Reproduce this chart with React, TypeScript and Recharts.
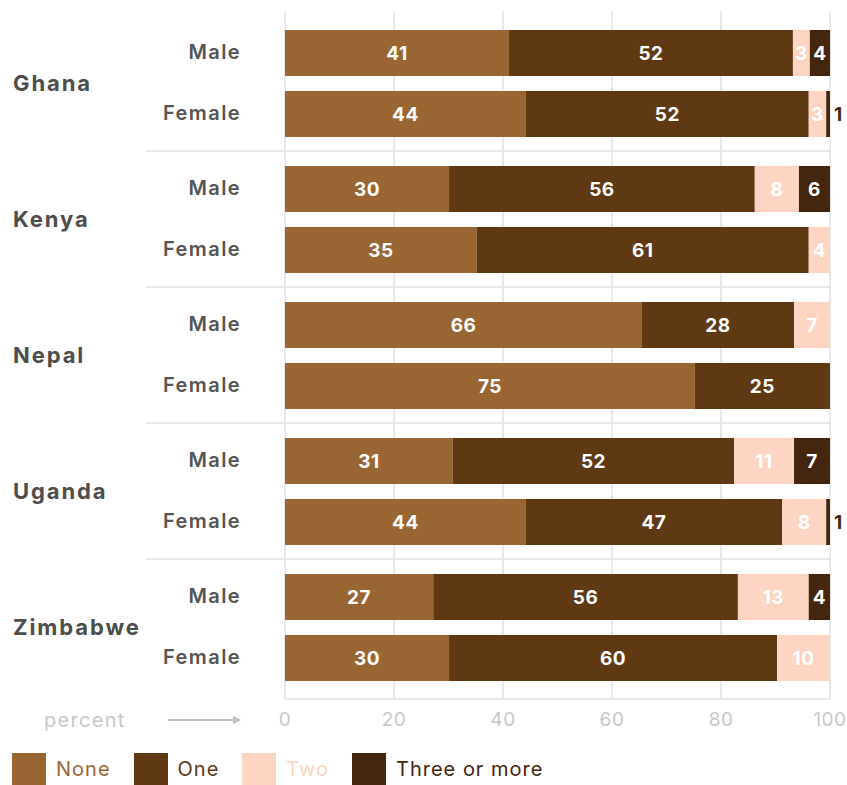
import React from 'react'
import {
  Bar,
  BarChart,
  CartesianGrid,
  LabelList,
  Legend,
  XAxis,
  YAxis
} from 'recharts'

const countries = ['Ghana', 'Kenya', 'Nepal', 'Uganda', 'Zimbabwe']
const genders = ['Male', 'Female']
const categories = ['None', 'One', 'Two', 'Three or more']
const colors = ['#996633', '#5e3914', '#fdd5c2', '#44260e']
const xTicks = [0, 20, 40, 60, 80, 100]

// share of people (percent) by number of children
const maleNone = [41.1, 30.1, 65.5, 30.8, 27.2]
const maleOne = [52.1, 56.1, 27.9, 51.6, 55.9]
const maleTwo = [3.1, 8.1, 6.6, 11.0, 13.0]
const maleThree = [3.7, 5.7, 0, 6.6, 3.9]
const femaleNone = [44.2, 35.2, 75.2, 44.2, 30.1]
const femaleOne = [51.9, 60.9, 24.8, 47.0, 60.2]
const femaleTwo = [3.2, 3.9, 0, 8.1, 9.7]
const femaleThree = [0.7, 0, 0, 0.7, 0]

const maleSeries = [maleNone, maleOne, maleTwo, maleThree]
const femaleSeries = [femaleNone, femaleOne, femaleTwo, femaleThree]

const data = countries.map((country, i) => {
  const row: Record<string, string | number> = { country }
  categories.forEach((_, k) => {
    row[`m${k}`] = maleSeries[k][i]
    row[`f${k}`] = femaleSeries[k][i]
  })
  return row
})

const FONT = 'Inter, "Open Sans", sans-serif'
const GRID = '#e9e9e9'

function RowTick(props: any) {
  const { y, payload, index } = props
  return (
    <g>
      {index > 0 && (
        <line x1={146} x2={830} y1={y - 68} y2={y - 68} stroke={GRID} strokeWidth={2} />
      )}
      <text
        x={13}
        y={y}
        dy="0.35em"
        fontSize={22}
        fontWeight={700}
        letterSpacing={1.9}
        fill="#4d4d4d"
      >
        {payload.value}
      </text>
      {genders.map((g, j) => (
        <text
          key={g}
          x={241}
          y={j === 0 ? y - 31 : y + 30}
          dy="0.35em"
          textAnchor="end"
          fontSize={20}
          fontWeight={600}
          letterSpacing={1.4}
          fill="#555555"
        >
          {g}
        </text>
      ))}
    </g>
  )
}

function SegmentLabel(props: any) {
  const { x, y, width, height, value } = props
  const v = Math.round(Number(value))
  if (!v) return null
  const small = width < 10
  return (
    <text
      x={small ? x + width + 4 : x + width / 2}
      y={y + height / 2}
      dy="0.35em"
      textAnchor={small ? 'start' : 'middle'}
      fontSize={19}
      fontWeight={700}
      letterSpacing={0.5}
      fill={small ? '#44260e' : '#ffffff'}
    >
      {v}
    </text>
  )
}

function PercentLabel(props: any) {
  const { x, y } = props.viewBox
  const cy = y + 21
  return (
    <g>
      <text x={x - 241} y={cy} dy="0.35em" fontSize={20} letterSpacing={1.3} fill="#c8c8c8">
        percent
      </text>
      <line x1={x - 117} x2={x - 50} y1={cy} y2={cy} stroke="#bdbdbd" strokeWidth={2} />
      <path d={`M${x - 52},${cy - 4} L${x - 44},${cy} L${x - 52},${cy + 4} Z`} fill="#bdbdbd" />
    </g>
  )
}

function LegendContent() {
  return (
    <div style={{ display: 'flex', alignItems: 'center', paddingLeft: 12, paddingTop: 14 }}>
      {categories.map((c, k) => (
        <div key={c} style={{ display: 'flex', alignItems: 'center', marginRight: 23 }}>
          <div style={{ width: 34, height: 32, background: colors[k] }} />
          <span style={{ marginLeft: 10, fontSize: 20, letterSpacing: 1, color: colors[k] }}>{c}</span>
        </div>
      ))}
    </div>
  )
}

export default function App() {
  return (
    <div style={{ position: 'absolute', left: 0, top: 0, fontFamily: FONT }}>
      <BarChart
        width={847}
        height={785}
        data={data}
        layout="vertical"
        margin={{ top: 11, right: 17, left: 0, bottom: 0 }}
        barGap={15}
      >
        <CartesianGrid horizontal={false} stroke={GRID} strokeWidth={2} />
        <XAxis
          type="number"
          domain={[0, 100]}
          ticks={xTicks}
          height={40}
          tickLine={false}
          tickSize={0}
          tickMargin={14}
          axisLine={{ stroke: GRID, strokeWidth: 2 }}
          tick={{ fill: '#c8c8c8', fontSize: 19, letterSpacing: 0.5 }}
          label={{ content: PercentLabel }}
        />
        <YAxis
          type="category"
          dataKey="country"
          width={285}
          padding={{ top: 4, bottom: 4 }}
          axisLine={false}
          tickLine={false}
          tick={RowTick}
        />
        <Legend
          verticalAlign="bottom"
          height={46}
          content={LegendContent}
          wrapperStyle={{ left: 0, bottom: 0, width: 847 }}
        />
        {categories.flatMap((c, k) =>
          ['m', 'f'].map((g) => (
            <Bar
              key={`${g}${k}`}
              dataKey={`${g}${k}`}
              name={c}
              stackId={g}
              fill={colors[k]}
              barSize={46}
              isAnimationActive={false}
            >
              <LabelList dataKey={`${g}${k}`} content={SegmentLabel} />
            </Bar>
          ))
        )}
      </BarChart>
    </div>
  )
}
